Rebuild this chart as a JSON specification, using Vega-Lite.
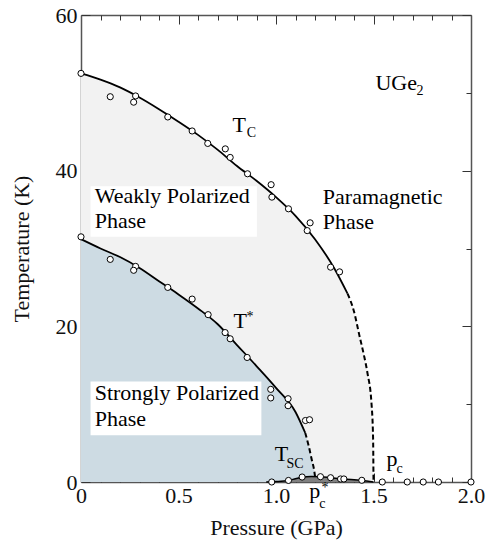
{
 "$schema": "https://vega.github.io/schema/vega-lite/v6.json",
 "width": 390,
 "height": 467,
 "autosize": {"type": "none"},
 "padding": {"left": 81, "top": 15, "right": 15, "bottom": 65},
 "background": "white",
 "config": {
  "view": {"stroke": null},
  "font": "Times New Roman, Liberation Serif, serif",
  "axis": {"grid": false, "labelFont": "Times New Roman, Liberation Serif, serif", "titleFont": "Times New Roman, Liberation Serif, serif", "labelFontSize": 22, "titleFontSize": 22, "titleFontWeight": "normal", "labelColor": "#111", "titleColor": "#111", "tickColor": "#333", "tickWidth": 1, "domainColor": "#555", "domainWidth": 1.5, "zindex": 1, "labelFlush": false, "labelOverlap": false}
 },
 "datasets": {
  "tc": [
   {"P": 0, "T": 52.5, "part": "solid"}, {"P": 0.1, "T": 51.7, "part": "solid"}, {"P": 0.2, "T": 50.7, "part": "solid"},
   {"P": 0.3, "T": 49.4, "part": "solid"}, {"P": 0.4, "T": 47.9, "part": "solid"}, {"P": 0.5, "T": 46.3, "part": "solid"},
   {"P": 0.6, "T": 44.6, "part": "solid"}, {"P": 0.7, "T": 42.7, "part": "solid"}, {"P": 0.8, "T": 40.6, "part": "solid"},
   {"P": 0.9, "T": 38.7, "part": "solid"}, {"P": 1.0, "T": 36.6, "part": "solid"}, {"P": 1.1, "T": 34.2, "part": "solid"},
   {"P": 1.2, "T": 31.2, "part": "solid"}, {"P": 1.3, "T": 27.4, "part": "solid"}, {"P": 1.367, "T": 24.2, "part": "solid"},
   {"P": 1.367, "T": 24.2, "part": "dashed"}, {"P": 1.4, "T": 21.9, "part": "dashed"}, {"P": 1.427, "T": 18.9, "part": "dashed"},
   {"P": 1.45, "T": 16.4, "part": "dashed"}, {"P": 1.469, "T": 14.0, "part": "dashed"}, {"P": 1.49, "T": 10.0, "part": "dashed"},
   {"P": 1.498, "T": 5.5, "part": "dashed"}, {"P": 1.5, "T": 0, "part": "dashed"}
  ],
  "ts": [
   {"P": 0, "T": 31.2, "part": "solid"}, {"P": 0.1, "T": 30.0, "part": "solid"}, {"P": 0.2, "T": 28.9, "part": "solid"},
   {"P": 0.3, "T": 27.5, "part": "solid"}, {"P": 0.4, "T": 25.8, "part": "solid"}, {"P": 0.5, "T": 24.1, "part": "solid"},
   {"P": 0.6, "T": 22.3, "part": "solid"}, {"P": 0.7, "T": 20.3, "part": "solid"}, {"P": 0.8, "T": 17.6, "part": "solid"},
   {"P": 0.9, "T": 14.9, "part": "solid"}, {"P": 1.0, "T": 12.1, "part": "solid"}, {"P": 1.1, "T": 9.0, "part": "solid"},
   {"P": 1.15, "T": 6.3, "part": "solid"},
   {"P": 1.15, "T": 6.3, "part": "dashed"}, {"P": 1.168, "T": 4.6, "part": "dashed"}, {"P": 1.184, "T": 2.8, "part": "dashed"},
   {"P": 1.195, "T": 1.6, "part": "dashed"}, {"P": 1.2, "T": 0.75, "part": "dashed"}
  ],
  "dome": [
   {"P": 0.95, "T": 0}, {"P": 1.0, "T": 0.05}, {"P": 1.064, "T": 0.2}, {"P": 1.1, "T": 0.42}, {"P": 1.134, "T": 0.62},
   {"P": 1.18, "T": 0.7}, {"P": 1.228, "T": 0.69}, {"P": 1.28, "T": 0.56}, {"P": 1.34, "T": 0.4}, {"P": 1.44, "T": 0.2}, {"P": 1.5, "T": 0}
  ],
  "boxes": [
   {"P": 0.049, "P2": 0.902, "T": 31.5, "T2": 38.0},
   {"P": 0.049, "P2": 0.925, "T": 6.0, "T2": 12.9}
  ],
  "pts": [
   {"P": 0, "T": 52.5}, {"P": 0.15, "T": 49.5}, {"P": 0.28, "T": 49.6}, {"P": 0.27, "T": 48.8}, {"P": 0.445, "T": 46.9},
   {"P": 0.57, "T": 45.1}, {"P": 0.65, "T": 43.5}, {"P": 0.74, "T": 42.8}, {"P": 0.765, "T": 41.7}, {"P": 0.854, "T": 39.6},
   {"P": 0.975, "T": 38.2}, {"P": 0.979, "T": 36.6}, {"P": 1.064, "T": 35.1}, {"P": 1.175, "T": 33.3}, {"P": 1.16, "T": 32.3},
   {"P": 1.28, "T": 27.6}, {"P": 1.326, "T": 27.0},
   {"P": 0, "T": 31.5}, {"P": 0.15, "T": 28.6}, {"P": 0.28, "T": 27.7}, {"P": 0.27, "T": 27.2}, {"P": 0.445, "T": 25.0},
   {"P": 0.57, "T": 23.5}, {"P": 0.652, "T": 21.5}, {"P": 0.739, "T": 19.2}, {"P": 0.765, "T": 18.4}, {"P": 0.852, "T": 16.0},
   {"P": 0.973, "T": 11.9}, {"P": 0.973, "T": 10.8}, {"P": 1.062, "T": 10.7}, {"P": 1.062, "T": 9.8}, {"P": 1.151, "T": 7.9},
   {"P": 1.172, "T": 8.0},
   {"P": 0.978, "T": 0}, {"P": 1.064, "T": 0.2}, {"P": 1.134, "T": 0.64}, {"P": 1.228, "T": 0.68}, {"P": 1.28, "T": 0.55},
   {"P": 1.331, "T": 0.39}, {"P": 1.348, "T": 0.39}, {"P": 1.44, "T": 0.22}, {"P": 1.545, "T": 0}, {"P": 1.673, "T": 0},
   {"P": 1.755, "T": 0}, {"P": 1.833, "T": 0}, {"P": 2.0, "T": 0}
  ],
  "labels": [
   {"P": 0.07, "T": 35.85, "label": "Weakly Polarized"},
   {"P": 0.07, "T": 32.6, "label": "Phase"},
   {"P": 1.24, "T": 35.7, "label": "Paramagnetic"},
   {"P": 1.24, "T": 32.5, "label": "Phase"},
   {"P": 0.07, "T": 10.5, "label": "Strongly Polarized"},
   {"P": 0.07, "T": 7.2, "label": "Phase"},
   {"P": 0.777, "T": 45.0, "label": "T"},
   {"P": 0.782, "T": 19.8, "label": "T"},
   {"P": 0.993, "T": 2.7, "label": "T"},
   {"P": 1.567, "T": 2.05, "label": "p"},
   {"P": 1.17, "T": -2.06, "label": "p"},
   {"P": 1.51, "T": 50.4, "label": "UGe"}
  ],
  "subs": [
   {"P": 0.85, "T": 44.3, "label": "C"},
   {"P": 0.849, "T": 20.7, "label": "*"},
   {"P": 1.054, "T": 1.8, "label": "SC"},
   {"P": 1.618, "T": 1.2, "label": "c"},
   {"P": 1.222, "T": -3.34, "label": "c"},
   {"P": 1.233, "T": -1.26, "label": "*"},
   {"P": 1.72, "T": 49.7, "label": "2"}
  ]
 },
 "resolve": {"axis": {"x": "independent", "y": "independent"}},
 "layer": [
  {
   "encoding": {
    "x": {"field": "P", "type": "quantitative", "scale": {"domain": [0, 2], "nice": false, "zero": false},
     "axis": {"orient": "bottom", "values": [0, 0.5, 1, 1.5, 2], "ticks": false, "domain": false, "labelPadding": 3,
      "labelExpr": "datum.value === 0 ? '0' : format(datum.value, '.1f')", "title": "Pressure (GPa)", "titlePadding": 11}},
    "y": {"field": "T", "type": "quantitative", "scale": {"domain": [0, 60], "nice": false, "zero": false},
     "axis": {"orient": "left", "values": [0, 20, 40, 60], "ticks": false, "domain": false, "labelPadding": 4,
      "title": "Temperature (K)", "titlePadding": 22}}
   },
   "layer": [
    {"data": {"name": "tc"}, "mark": {"type": "area", "color": "#f2f2f2", "interpolate": "monotone"}, "encoding": {"y2": {"datum": 0}}},
    {"data": {"name": "ts"}, "mark": {"type": "area", "color": "#cddbe3", "interpolate": "monotone"}, "encoding": {"y2": {"datum": 0}}},
    {"data": {"name": "dome"}, "mark": {"type": "area", "color": "#808080", "interpolate": "monotone"}, "encoding": {"y2": {"datum": 0}}},
    {"data": {"name": "boxes"}, "mark": {"type": "rect", "color": "white"}, "encoding": {"x2": {"field": "P2"}, "y2": {"field": "T2"}}},
    {"data": {"name": "tc"}, "transform": [{"filter": "datum.part === 'solid'"}], "mark": {"type": "line", "color": "black", "strokeWidth": 1.8, "interpolate": "monotone"}},
    {"data": {"name": "tc"}, "transform": [{"filter": "datum.part === 'dashed'"}], "mark": {"type": "line", "color": "black", "strokeWidth": 2, "strokeDash": [5, 3], "interpolate": "monotone"}},
    {"data": {"name": "ts"}, "transform": [{"filter": "datum.part === 'solid'"}], "mark": {"type": "line", "color": "black", "strokeWidth": 1.8, "interpolate": "monotone"}},
    {"data": {"name": "ts"}, "transform": [{"filter": "datum.part === 'dashed'"}], "mark": {"type": "line", "color": "black", "strokeWidth": 2, "strokeDash": [5, 3], "interpolate": "monotone"}},
    {"data": {"name": "dome"}, "mark": {"type": "line", "color": "black", "strokeWidth": 1.5, "interpolate": "monotone"}},
    {"data": {"name": "pts"}, "mark": {"type": "point", "shape": "circle", "filled": true, "fill": "white", "stroke": "black", "strokeWidth": 1, "size": 38, "opacity": 1}},
    {"data": {"name": "labels"}, "mark": {"type": "text", "font": "Times New Roman, Liberation Serif, serif", "fontSize": 22, "align": "left", "baseline": "alphabetic", "fill": "black"}, "encoding": {"text": {"field": "label"}}},
    {"data": {"name": "subs"}, "mark": {"type": "text", "font": "Times New Roman, Liberation Serif, serif", "fontSize": 14, "align": "left", "baseline": "alphabetic", "fill": "black"}, "encoding": {"text": {"field": "label"}}}
   ]
  },
  {
   "data": {"values": [{"P": 0, "T": 0}]},
   "mark": {"type": "point", "opacity": 0},
   "encoding": {
    "x": {"field": "P", "type": "quantitative", "scale": {"domain": [0, 2], "nice": false, "zero": false},
     "axis": {"orient": "bottom", "values": [0, 0.5, 1, 1.5, 2], "labels": false, "tickSize": -9, "domain": true, "title": null}},
    "y": {"field": "T", "type": "quantitative", "scale": {"domain": [0, 60], "nice": false, "zero": false},
     "axis": {"orient": "left", "values": [0, 20, 40, 60], "labels": false, "tickSize": -9, "domain": true, "title": null}}
   }
  },
  {
   "data": {"values": [{"P": 0, "T": 0}]},
   "mark": {"type": "point", "opacity": 0},
   "encoding": {
    "x": {"field": "P", "type": "quantitative", "scale": {"domain": [0, 2], "nice": false, "zero": false},
     "axis": {"orient": "bottom", "values": [0.1, 0.2, 0.3, 0.4, 0.6, 0.7, 0.8, 0.9, 1.1, 1.2, 1.3, 1.4, 1.6, 1.7, 1.8, 1.9], "labels": false, "tickSize": -5, "domain": false, "title": null}},
    "y": {"field": "T", "type": "quantitative", "scale": {"domain": [0, 60], "nice": false, "zero": false},
     "axis": {"orient": "left", "values": [10, 30, 50], "labels": false, "tickSize": -5, "domain": false, "title": null}}
   }
  },
  {
   "data": {"values": [{"P": 0, "T": 0}]},
   "mark": {"type": "point", "opacity": 0},
   "encoding": {
    "x": {"field": "P", "type": "quantitative", "scale": {"domain": [0, 2], "nice": false, "zero": false},
     "axis": {"orient": "top", "values": [0, 0.5, 1, 1.5, 2], "labels": false, "tickSize": -9, "domain": true, "title": null}},
    "y": {"field": "T", "type": "quantitative", "scale": {"domain": [0, 60], "nice": false, "zero": false},
     "axis": {"orient": "right", "values": [0, 20, 40, 60], "labels": false, "tickSize": -9, "domain": true, "title": null}}
   }
  },
  {
   "data": {"values": [{"P": 0, "T": 0}]},
   "mark": {"type": "point", "opacity": 0},
   "encoding": {
    "x": {"field": "P", "type": "quantitative", "scale": {"domain": [0, 2], "nice": false, "zero": false},
     "axis": {"orient": "top", "values": [0.1, 0.2, 0.3, 0.4, 0.6, 0.7, 0.8, 0.9, 1.1, 1.2, 1.3, 1.4, 1.6, 1.7, 1.8, 1.9], "labels": false, "tickSize": -5, "domain": false, "title": null}},
    "y": {"field": "T", "type": "quantitative", "scale": {"domain": [0, 60], "nice": false, "zero": false},
     "axis": {"orient": "right", "values": [10, 30, 50], "labels": false, "tickSize": -5, "domain": false, "title": null}}
   }
  }
 ]
}
